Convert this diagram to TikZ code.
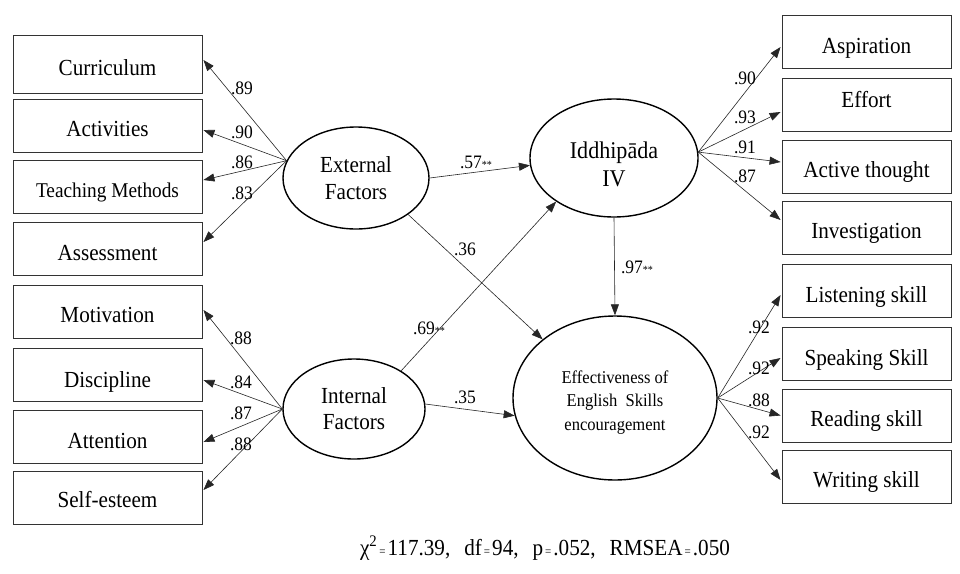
\documentclass[tikz,border=0pt]{standalone}
\usepackage{fontspec}
\setmainfont[FakeStretch=0.92]{Liberation Serif}
\usetikzlibrary{shapes.geometric,arrows.meta,calc}
\newcommand\smalleq{{\fontsize{12}{12}\selectfont\,=\,}}
\newcommand\starz{{\fontsize{11}{11}\selectfont**}}
\begin{document}
\begin{tikzpicture}[x=1pt,y=-1pt,
  box/.style={draw=black!80,line width=0.9pt,minimum height=53pt,inner sep=0pt,
    text height=22pt,text depth=0pt,font=\fontsize{23}{27}\selectfont},
  lbox/.style={box,minimum width=189pt},
  rbox/.style={box,minimum width=169pt},
  lat/.style={draw,ellipse,line width=1.4pt,inner sep=0pt,align=center},
  conn/.style={draw=black!85,line width=0.6pt,-{Triangle[length=11pt,width=8pt]}},
  coef/.style={font=\fontsize{19}{21}\selectfont,inner sep=0pt},
  ]
\fill[white] (0,0) rectangle (960,573);
\useasboundingbox (0,0) rectangle (960,573);
% left boxes
\node[lbox,minimum height=58pt] (cur) at (107.5,64) {Curriculum};
\node[lbox] (act) at (107.5,125.5) {Activities};
\node[lbox,font=\fontsize{21}{24}\selectfont,text height=20pt] (tm) at (107.5,187) {Teaching Methods};
\node[lbox] (ass) at (107.5,249) {Assessment};
\node[lbox] (mot) at (107.5,311.5) {Motivation};
\node[lbox,text height=24pt] (dis) at (107.5,375) {Discipline};
\node[lbox] (att) at (107.5,437) {Attention};
\node[lbox,text height=18pt] (self) at (107.5,498) {Self-esteem};
% right boxes
\node[rbox] (asp) at (866.5,42) {Aspiration};
\node[rbox,text height=5pt] (eft) at (866.5,104.5) {Effort};
\node[rbox,text height=21pt] (ath) at (866.5,166.5) {Active thought};
\node[rbox,text height=21pt] (inv) at (866.5,227.5) {Investigation};
\node[rbox,text height=23pt] (lis) at (866.5,290.5) {Listening skill};
\node[rbox] (spk) at (866.5,354) {Speaking Skill};
\node[rbox,text height=21pt] (rea) at (866.5,415.5) {Reading skill};
\node[rbox,text height=21pt] (wri) at (866.5,476.5) {Writing skill};
% latent variables
\node[lat,minimum width=146pt,minimum height=102pt,font=\fontsize{23}{27}\selectfont] (ext) at (356,178) {External\\Factors};
\node[lat,minimum width=142pt,minimum height=100pt,font=\fontsize{23}{26}\selectfont] (int) at (354,409) {Internal\\Factors};
\node[lat,minimum width=168pt,minimum height=118pt,font=\fontsize{24}{28}\selectfont] (idd) at (614,158) {\rule{0pt}{30pt}Iddhipāda\\IV};
\node[lat,minimum width=204pt,minimum height=164pt,font=\fontsize{18}{23.5}\selectfont] (eff) at (615,398) {\rule{0pt}{21pt}Effectiveness of\\English\ \ Skills\\encouragement};
% loadings left
\draw[conn] (ext.166) -- ($(cur.east)+(1,-4)$);
\draw[conn] (ext.166) -- ($(act.east)+(1,4.5)$);
\draw[conn] (ext.166) -- ($(tm.east)+(1,-7)$);
\draw[conn] (ext.166) -- ($(ass.east)+(1,-7)$);
\draw[conn] (int.180) -- ($(mot.east)+(1,-1.5)$);
\draw[conn] (int.180) -- ($(dis.east)+(1,5)$);
\draw[conn] (int.180) -- ($(att.east)+(1,5)$);
\draw[conn] (int.180) -- ($(self.east)+(1,-8)$);
% loadings right
\draw[conn] (idd.4) -- ($(asp.west)+(-1,5)$);
\draw[conn] (idd.4) -- ($(eft.west)+(-1,7.5)$);
\draw[conn] (idd.4) -- ($(ath.west)+(-1,-4.5)$);
\draw[conn] (idd.4) -- ($(inv.west)+(-1,-7.5)$);
\draw[conn] (eff.east) -- ($(lis.west)+(-1,4.5)$);
\draw[conn] (eff.east) -- ($(spk.west)+(-1,4)$);
\draw[conn] (eff.east) -- ($(rea.west)+(-1,0)$);
\draw[conn] (eff.east) -- ($(wri.west)+(-1,3.5)$);
% structural paths
\draw[conn] (ext.east) -- (idd.185);
\draw[conn] (ext.-35) -- (eff.141);
\draw[conn] (idd.south) -- (eff.north);
\draw[conn] (int.39) -- (idd.-143);
\draw[conn] (int.4) -- (eff.190);
% coefficients
\node[coef] (c1) at (242,88) {.89};
\node[coef] (c2) at (242,132) {.90};
\node[coef] (c3) at (242,162) {.86};
\node[coef] (c4) at (242,193) {.83};
\node[coef] (c5) at (241,338) {.88};
\node[coef] (c6) at (241,382) {.84};
\node[coef] (c7) at (241,413) {.87};
\node[coef] (c8) at (241,444) {.88};
\node[coef] (c9) at (745,78) {.90};
\node[coef] (c10) at (745,117) {.93};
\node[coef] (c11) at (745,147) {.91};
\node[coef] (c12) at (745,176) {.87};
\node[coef] (c13) at (759,327) {.92};
\node[coef] (c14) at (759,368) {.92};
\node[coef] (c15) at (759,400) {.88};
\node[coef] (c16) at (759,432) {.92};
\node[coef] (s1) at (476,162) {.57\starz};
\node[coef] (s2) at (465,249) {.36};
\node[coef] (s3) at (637,267) {.97\starz};
\node[coef] (s4) at (429,328) {.69\starz};
\node[coef] (s5) at (465,397) {.35};
% fit indices
\node[font=\fontsize{23}{26}\selectfont,inner sep=0pt] (fit) at (545,548)
  {χ\textsuperscript{2}\smalleq 117.39,\hspace{14pt}df\smalleq 94,\hspace{14pt}p\smalleq .052,\hspace{14pt}RMSEA\smalleq .050};
\end{tikzpicture}
\end{document}
